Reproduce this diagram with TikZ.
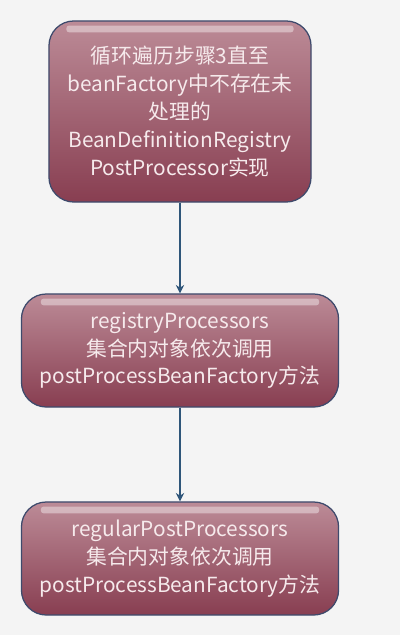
\documentclass[tikz,border=0pt]{standalone}
\usepackage{fontspec}
\setmainfont{Noto Sans CJK SC}
\usetikzlibrary{arrows.meta}

\definecolor{pagebg}{HTML}{F4F4F4}
\definecolor{boxtop}{HTML}{BC8B97}
\definecolor{boxmid}{HTML}{A05B6C}
\definecolor{boxbottom}{HTML}{883E51}
\definecolor{boxedge}{HTML}{3E4A6C}
\definecolor{boxtext}{HTML}{F6EAEC}
\definecolor{arrowblue}{HTML}{2E5579}

\tikzset{
  stepbox/.style={draw=boxedge, line width=0.9pt, rounded corners=0.62cm,
    top color=boxtop, middle color=boxmid, bottom color=boxbottom,
    text=boxtext, align=center, inner sep=0pt,
    font=\fontsize{14.8}{19.8}\selectfont},
  gloss/.style={fill=white, opacity=0.4, rounded corners=2pt},
  flow/.style={draw=arrowblue, line width=0.8pt, -{Stealth[length=6pt,width=6pt]}}
}

\begin{document}
\begin{tikzpicture}[x=0.025cm, y=-0.025cm]
\fill[pagebg] (0,0) rectangle (400,635);
\node[stepbox, minimum width=6.55cm, minimum height=4.525cm] (loop) at (180,111.5)
  {循环遍历步骤3直至\\beanFactory中不存在未\\处理的\\BeanDefinitionRegistry\\PostProcessor实现};
\node[stepbox, minimum width=7.925cm, minimum height=2.825cm] (registry) at (180,350.5)
  {registryProcessors\\集合内对象依次调用\\postProcessBeanFactory方法};
\node[stepbox, minimum width=7.925cm, minimum height=2.825cm] (regular) at (180,558.5)
  {regularPostProcessors\\集合内对象依次调用\\postProcessBeanFactory方法};
% glossy bands
\fill[gloss] ([xshift=0.45cm,yshift=-0.13cm]loop.north west) rectangle ([xshift=-0.45cm,yshift=-0.3cm]loop.north east);
\fill[gloss] ([xshift=0.5cm,yshift=-0.13cm]registry.north west) rectangle ([xshift=-0.5cm,yshift=-0.3cm]registry.north east);
\fill[gloss] ([xshift=0.5cm,yshift=-0.13cm]regular.north west) rectangle ([xshift=-0.5cm,yshift=-0.3cm]regular.north east);
\draw[flow] (loop) -- (registry);
\draw[flow] (registry) -- (regular);
\end{tikzpicture}
\end{document}
